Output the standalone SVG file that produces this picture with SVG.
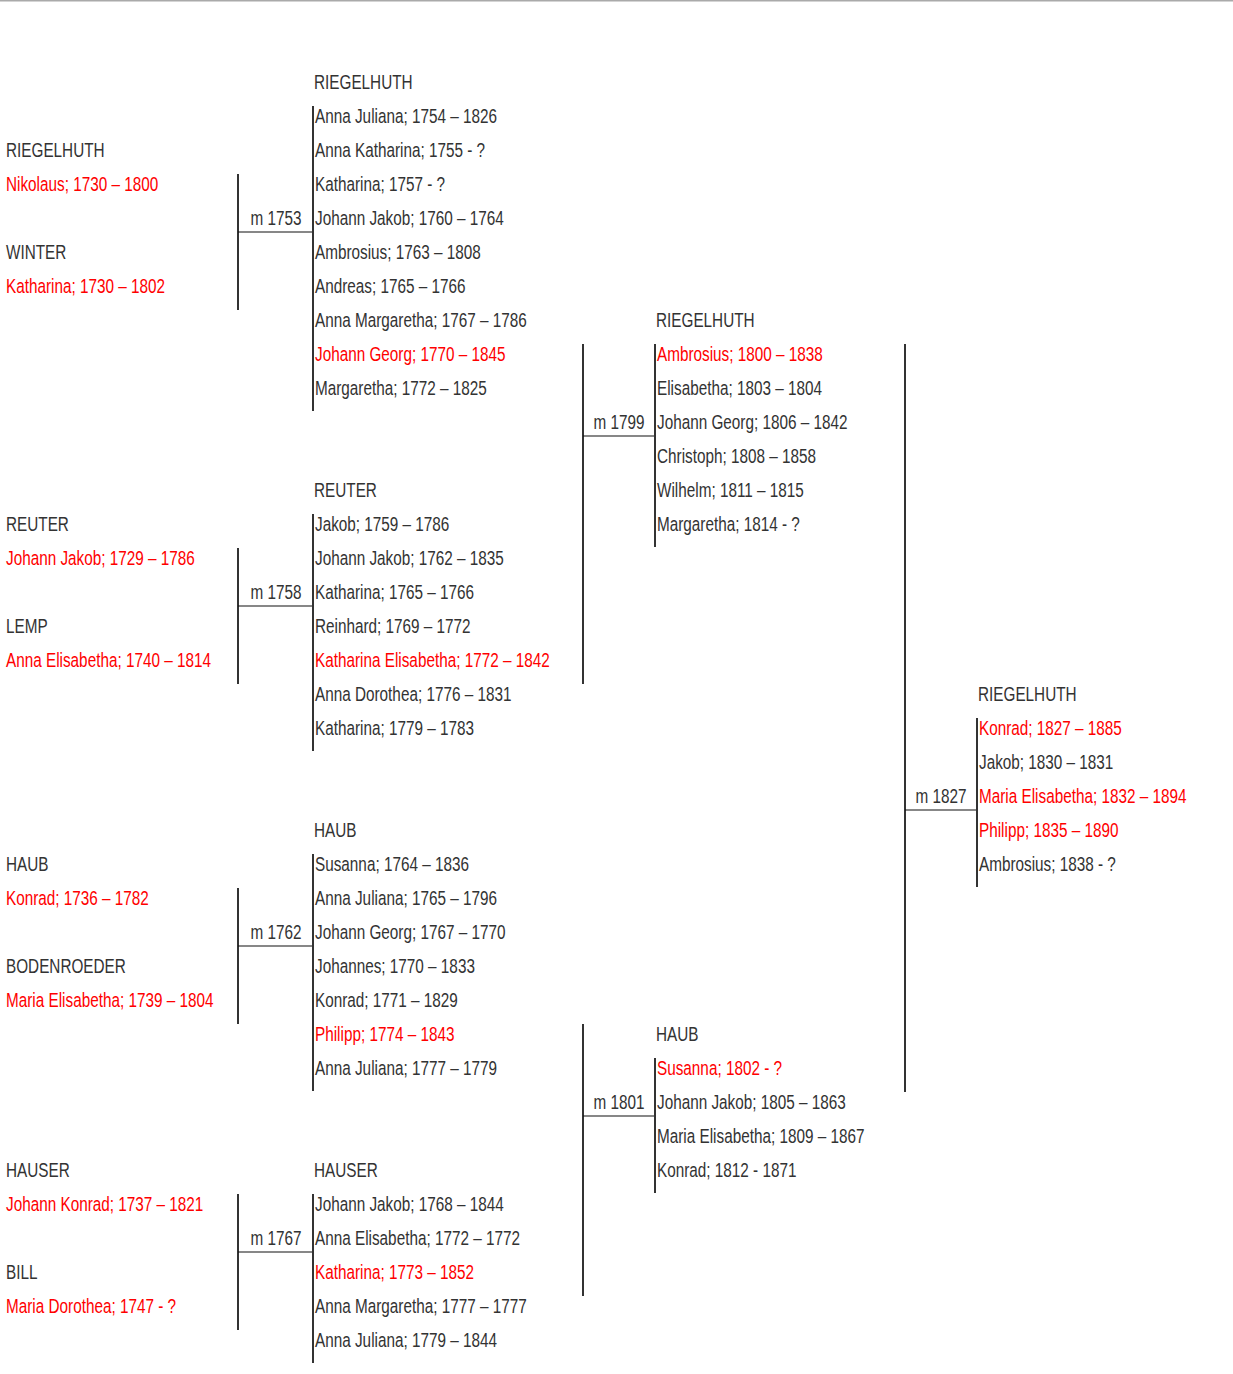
<svg xmlns="http://www.w3.org/2000/svg" width="1233" height="1374" viewBox="0 0 1233 1374">
<style>
text{font-family:"Liberation Sans",Arial,sans-serif;font-size:19.5px;fill:#333}
.r{fill:#f00}
.m{text-anchor:middle}
.v{stroke:#333;stroke-width:2;fill:none}
.h{stroke:#111;stroke-width:1.2;fill:none}
</style>
<rect width="1233" height="1374" fill="#fff"/>
<line x1="0" y1="0.5" x2="1233" y2="0.5" stroke="#aaa" stroke-width="2"/>
<g id="connectors">
<line class="v" x1="238" y1="174" x2="238" y2="310"/>
<line class="h" x1="238" y1="232" x2="313" y2="232"/>
<line class="v" x1="313" y1="106" x2="313" y2="411"/>
<line class="v" x1="238" y1="548" x2="238" y2="684"/>
<line class="h" x1="238" y1="606" x2="313" y2="606"/>
<line class="v" x1="313" y1="514" x2="313" y2="751"/>
<line class="v" x1="238" y1="888" x2="238" y2="1024"/>
<line class="h" x1="238" y1="946" x2="313" y2="946"/>
<line class="v" x1="313" y1="854" x2="313" y2="1091"/>
<line class="v" x1="238" y1="1194" x2="238" y2="1330"/>
<line class="h" x1="238" y1="1252" x2="313" y2="1252"/>
<line class="v" x1="313" y1="1194" x2="313" y2="1363"/>
<line class="v" x1="583" y1="344" x2="583" y2="684"/>
<line class="h" x1="583" y1="436" x2="655" y2="436"/>
<line class="v" x1="655" y1="344" x2="655" y2="547"/>
<line class="v" x1="583" y1="1024" x2="583" y2="1296"/>
<line class="h" x1="583" y1="1116" x2="655" y2="1116"/>
<line class="v" x1="655" y1="1058" x2="655" y2="1193"/>
<line class="v" x1="905" y1="344" x2="905" y2="1092"/>
<line class="h" x1="905" y1="810" x2="977" y2="810"/>
<line class="v" x1="977" y1="718" x2="977" y2="887"/>
</g>
<g id="couple-riegelhuth-winter">
<text transform="translate(6,157) scale(.785,1)">RIEGELHUTH</text>
<text class="r" transform="translate(6,191) scale(.785,1)">Nikolaus; 1730 – 1800</text>
<text transform="translate(6,259) scale(.785,1)">WINTER</text>
<text class="r" transform="translate(6,293) scale(.785,1)">Katharina; 1730 – 1802</text>
<text class="m" transform="translate(276,225) scale(.785,1)">m 1753</text>
</g>
<g id="children-riegelhuth-1753">
<text transform="translate(314,89) scale(.785,1)">RIEGELHUTH</text>
<text transform="translate(315,123) scale(.785,1)">Anna Juliana; 1754 – 1826</text>
<text transform="translate(315,157) scale(.785,1)">Anna Katharina; 1755 - ?</text>
<text transform="translate(315,191) scale(.785,1)">Katharina; 1757 - ?</text>
<text transform="translate(315,225) scale(.785,1)">Johann Jakob; 1760 – 1764</text>
<text transform="translate(315,259) scale(.785,1)">Ambrosius; 1763 – 1808</text>
<text transform="translate(315,293) scale(.785,1)">Andreas; 1765 – 1766</text>
<text transform="translate(315,327) scale(.785,1)">Anna Margaretha; 1767 – 1786</text>
<text class="r" transform="translate(315,361) scale(.785,1)">Johann Georg; 1770 – 1845</text>
<text transform="translate(315,395) scale(.785,1)">Margaretha; 1772 – 1825</text>
</g>
<g id="couple-reuter-lemp">
<text transform="translate(6,531) scale(.785,1)">REUTER</text>
<text class="r" transform="translate(6,565) scale(.785,1)">Johann Jakob; 1729 – 1786</text>
<text transform="translate(6,633) scale(.785,1)">LEMP</text>
<text class="r" transform="translate(6,667) scale(.785,1)">Anna Elisabetha; 1740 – 1814</text>
<text class="m" transform="translate(276,599) scale(.785,1)">m 1758</text>
</g>
<g id="children-reuter-1758">
<text transform="translate(314,497) scale(.785,1)">REUTER</text>
<text transform="translate(315,531) scale(.785,1)">Jakob; 1759 – 1786</text>
<text transform="translate(315,565) scale(.785,1)">Johann Jakob; 1762 – 1835</text>
<text transform="translate(315,599) scale(.785,1)">Katharina; 1765 – 1766</text>
<text transform="translate(315,633) scale(.785,1)">Reinhard; 1769 – 1772</text>
<text class="r" transform="translate(315,667) scale(.785,1)">Katharina Elisabetha; 1772 – 1842</text>
<text transform="translate(315,701) scale(.785,1)">Anna Dorothea; 1776 – 1831</text>
<text transform="translate(315,735) scale(.785,1)">Katharina; 1779 – 1783</text>
</g>
<g id="couple-haub-bodenroeder">
<text transform="translate(6,871) scale(.785,1)">HAUB</text>
<text class="r" transform="translate(6,905) scale(.785,1)">Konrad; 1736 – 1782</text>
<text transform="translate(6,973) scale(.785,1)">BODENROEDER</text>
<text class="r" transform="translate(6,1007) scale(.785,1)">Maria Elisabetha; 1739 – 1804</text>
<text class="m" transform="translate(276,939) scale(.785,1)">m 1762</text>
</g>
<g id="children-haub-1762">
<text transform="translate(314,837) scale(.785,1)">HAUB</text>
<text transform="translate(315,871) scale(.785,1)">Susanna; 1764 – 1836</text>
<text transform="translate(315,905) scale(.785,1)">Anna Juliana; 1765 – 1796</text>
<text transform="translate(315,939) scale(.785,1)">Johann Georg; 1767 – 1770</text>
<text transform="translate(315,973) scale(.785,1)">Johannes; 1770 – 1833</text>
<text transform="translate(315,1007) scale(.785,1)">Konrad; 1771 – 1829</text>
<text class="r" transform="translate(315,1041) scale(.785,1)">Philipp; 1774 – 1843</text>
<text transform="translate(315,1075) scale(.785,1)">Anna Juliana; 1777 – 1779</text>
</g>
<g id="couple-hauser-bill">
<text transform="translate(6,1177) scale(.785,1)">HAUSER</text>
<text class="r" transform="translate(6,1211) scale(.785,1)">Johann Konrad; 1737 – 1821</text>
<text transform="translate(6,1279) scale(.785,1)">BILL</text>
<text class="r" transform="translate(6,1313) scale(.785,1)">Maria Dorothea; 1747 - ?</text>
<text class="m" transform="translate(276,1245) scale(.785,1)">m 1767</text>
</g>
<g id="children-hauser-1767">
<text transform="translate(314,1177) scale(.785,1)">HAUSER</text>
<text transform="translate(315,1211) scale(.785,1)">Johann Jakob; 1768 – 1844</text>
<text transform="translate(315,1245) scale(.785,1)">Anna Elisabetha; 1772 – 1772</text>
<text class="r" transform="translate(315,1279) scale(.785,1)">Katharina; 1773 – 1852</text>
<text transform="translate(315,1313) scale(.785,1)">Anna Margaretha; 1777 – 1777</text>
<text transform="translate(315,1347) scale(.785,1)">Anna Juliana; 1779 – 1844</text>
</g>
<g id="children-riegelhuth-1799">
<text class="m" transform="translate(619,429) scale(.785,1)">m 1799</text>
<text transform="translate(656,327) scale(.785,1)">RIEGELHUTH</text>
<text class="r" transform="translate(657,361) scale(.785,1)">Ambrosius; 1800 – 1838</text>
<text transform="translate(657,395) scale(.785,1)">Elisabetha; 1803 – 1804</text>
<text transform="translate(657,429) scale(.785,1)">Johann Georg; 1806 – 1842</text>
<text transform="translate(657,463) scale(.785,1)">Christoph; 1808 – 1858</text>
<text transform="translate(657,497) scale(.785,1)">Wilhelm; 1811 – 1815</text>
<text transform="translate(657,531) scale(.785,1)">Margaretha; 1814 - ?</text>
</g>
<g id="children-haub-1801">
<text class="m" transform="translate(619,1109) scale(.785,1)">m 1801</text>
<text transform="translate(656,1041) scale(.785,1)">HAUB</text>
<text class="r" transform="translate(657,1075) scale(.785,1)">Susanna; 1802 - ?</text>
<text transform="translate(657,1109) scale(.785,1)">Johann Jakob; 1805 – 1863</text>
<text transform="translate(657,1143) scale(.785,1)">Maria Elisabetha; 1809 – 1867</text>
<text transform="translate(657,1177) scale(.785,1)">Konrad; 1812 - 1871</text>
</g>
<g id="children-riegelhuth-1827">
<text class="m" transform="translate(941,803) scale(.785,1)">m 1827</text>
<text transform="translate(978,701) scale(.785,1)">RIEGELHUTH</text>
<text class="r" transform="translate(979,735) scale(.785,1)">Konrad; 1827 – 1885</text>
<text transform="translate(979,769) scale(.785,1)">Jakob; 1830 – 1831</text>
<text class="r" transform="translate(979,803) scale(.785,1)">Maria Elisabetha; 1832 – 1894</text>
<text class="r" transform="translate(979,837) scale(.785,1)">Philipp; 1835 – 1890</text>
<text transform="translate(979,871) scale(.785,1)">Ambrosius; 1838 - ?</text>
</g>
</svg>
